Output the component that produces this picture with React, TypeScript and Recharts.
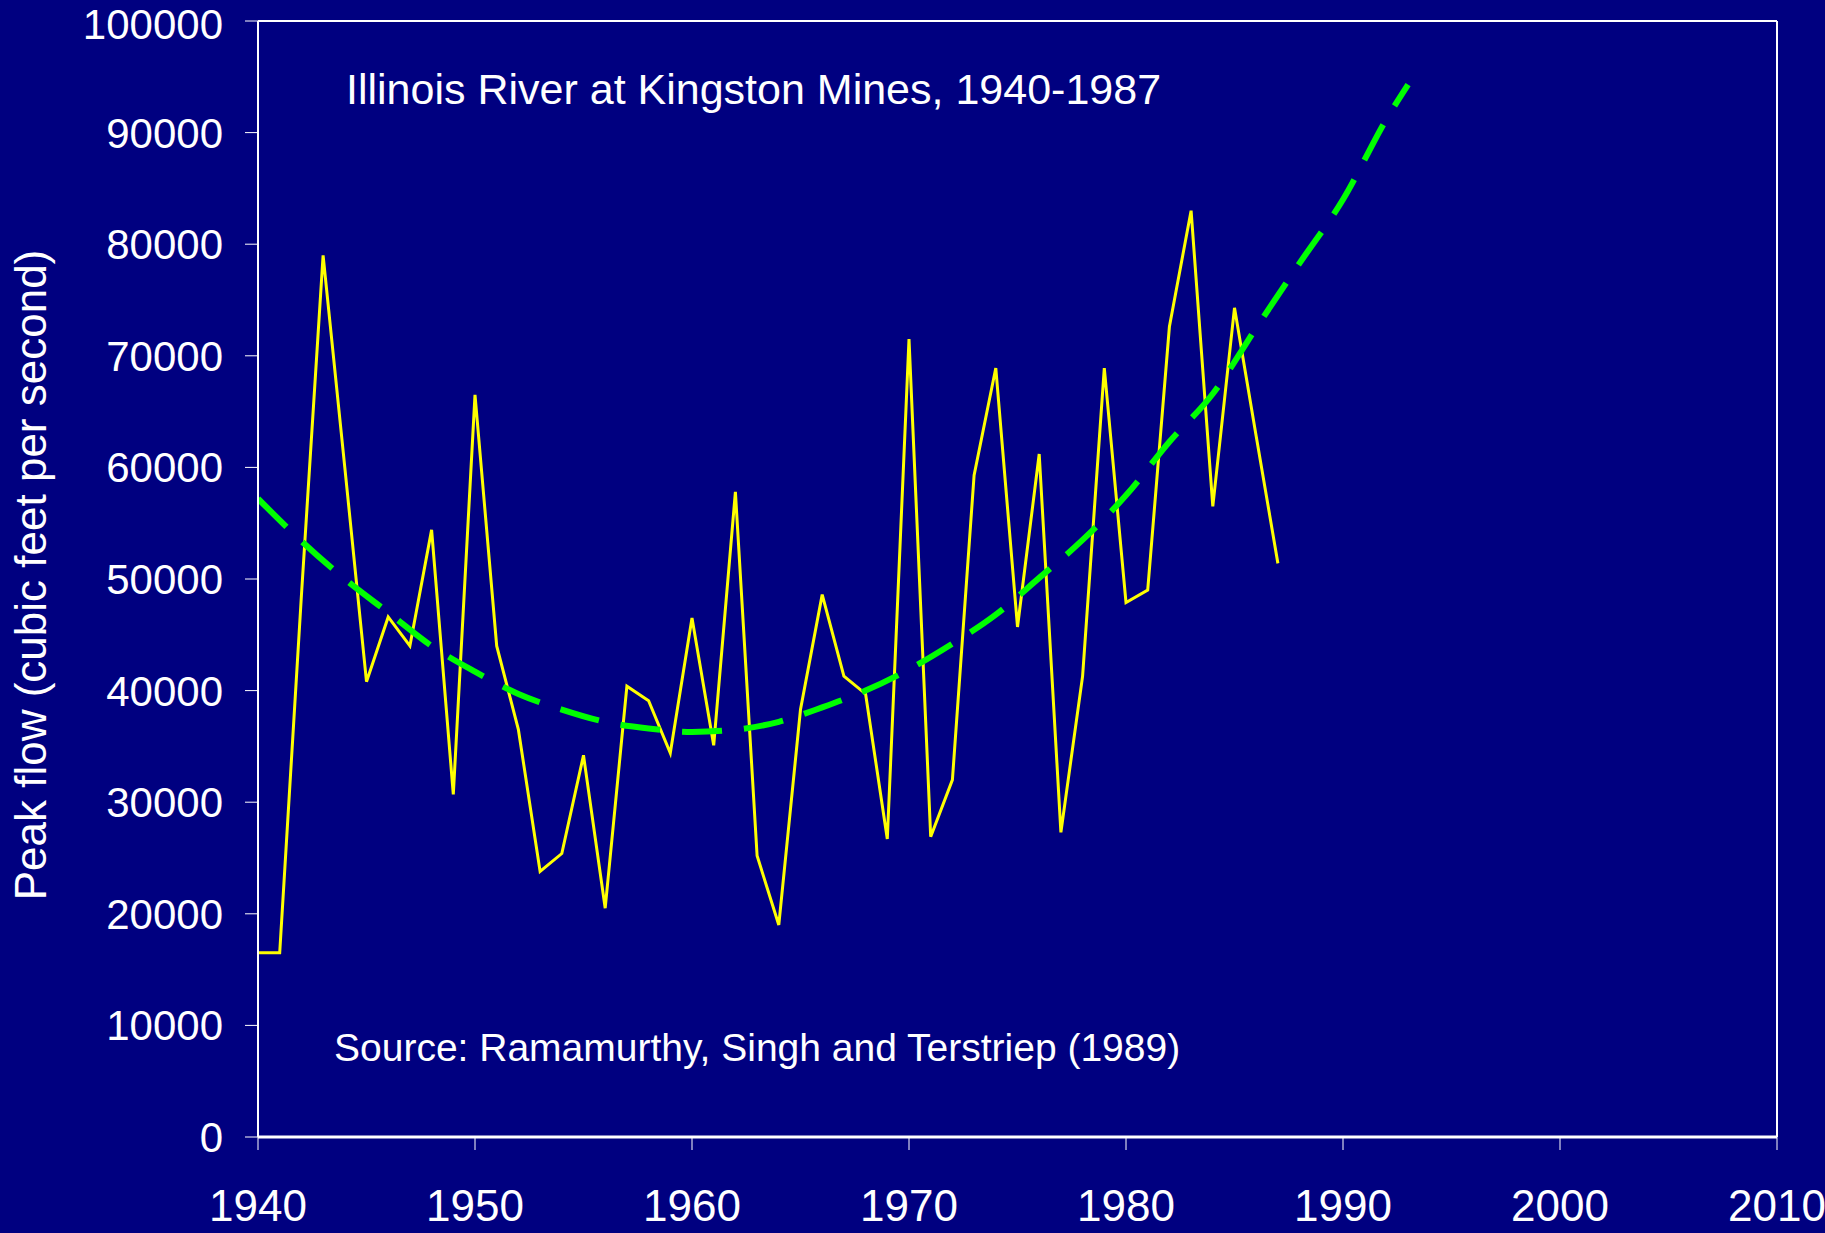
import React from "react";
import {
  LineChart,
  Line,
  XAxis,
  YAxis,
  ReferenceLine,
} from "recharts";

// annual peak flow, Illinois River at Kingston Mines
const years = [
  1940, 1941, 1942, 1943, 1944, 1945, 1946, 1947, 1948, 1949,
  1950, 1951, 1952, 1953, 1954, 1955, 1956, 1957, 1958, 1959,
  1960, 1961, 1962, 1963, 1964, 1965, 1966, 1967, 1968, 1969,
  1970, 1971, 1972, 1973, 1974, 1975, 1976, 1977, 1978, 1979,
  1980, 1981, 1982, 1983, 1984, 1985, 1986, 1987,
];
const peakFlow = [
  16500, 16500, 48500, 79000, 60000, 40800, 46600, 44000, 54400, 30700,
  66500, 44000, 36500, 23800, 25400, 34200, 20500, 40400, 39100, 34400,
  46500, 35100, 57800, 25200, 19000, 38300, 48600, 41300, 39700, 26700,
  71500, 26900, 32000, 59300, 68900, 45700, 61200, 27300, 41300, 68900,
  47900, 49000, 72600, 83000, 56500, 74300, 62800, 51400,
];

// trend curve
const trendYears = [
  1940, 1942, 1944, 1946, 1948, 1950, 1952, 1954, 1956, 1958,
  1960, 1962, 1964, 1966, 1968, 1970, 1972, 1974, 1976, 1978,
  1980, 1982, 1984, 1986, 1988, 1990, 1992, 1993,
];
const trendFlow = [
  57200, 53400, 50000, 47000, 44000, 41700, 39700, 38300, 37200, 36600,
  36300, 36500, 37200, 38500, 40000, 41900, 44200, 46800, 50100, 53500,
  57500, 62300, 66600, 72500, 78300, 84000, 91200, 94300,
];

const xTicks = [1940, 1950, 1960, 1970, 1980, 1990, 2000, 2010];
const yTicks = [0, 10000, 20000, 30000, 40000, 50000, 60000, 70000, 80000, 90000, 100000];

const flowData = years.map((year, i) => ({ year, flow: peakFlow[i] }));
const trendData = trendYears.map((year, i) => ({ year, trend: trendFlow[i] }));

const FONT = '"Liberation Sans", Arial, sans-serif';
const BG = "#000080";

const textStyle: React.CSSProperties = {
  position: "absolute",
  color: "#fff",
  fontFamily: FONT,
  lineHeight: "40px",
  whiteSpace: "nowrap",
};

export default function App() {
  return (
    <div style={{ position: "relative", width: 1825, height: 1233, background: BG }}>
      <style>{`body{margin:0;background:${BG};}`}</style>
      <LineChart
        width={1825}
        height={1233}
        margin={{ top: 21, right: 48, bottom: 0, left: 0 }}
      >
        <XAxis
          dataKey="year"
          type="number"
          domain={[1940, 2010]}
          ticks={xTicks}
          allowDataOverflow
          height={96}
          stroke="#fff"
          axisLine={{ stroke: "#fff", strokeWidth: 3 }}
          tickLine={{ stroke: "#fff", strokeWidth: 1 }}
          tickSize={13}
          tickMargin={40}
          tick={{ fill: "#fff", fontSize: 44, fontFamily: FONT }}
        />
        <YAxis
          type="number"
          domain={[0, 100000]}
          ticks={yTicks}
          width={258}
          stroke="#fff"
          axisLine={{ stroke: "#fff", strokeWidth: 2 }}
          tickLine={{ stroke: "#fff", strokeWidth: 1 }}
          tickSize={13}
          tickMargin={22}
          tick={{ fill: "#fff", fontSize: 42, fontFamily: FONT }}
        />
        <ReferenceLine y={100000} stroke="#fff" strokeWidth={2} />
        <ReferenceLine x={2010} stroke="#fff" strokeWidth={2} />
        <Line
          data={flowData}
          dataKey="flow"
          type="linear"
          stroke="#ffff00"
          strokeWidth={3}
          dot={false}
          isAnimationActive={false}
        />
        <Line
          data={trendData}
          dataKey="trend"
          type="monotone"
          stroke="#00ff00"
          strokeWidth={6}
          strokeDasharray="40 22"
          dot={false}
          isAnimationActive={false}
        />
      </LineChart>

      <div style={{ ...textStyle, fontSize: 43, left: 346, top: 69 }}>
        Illinois River at Kingston Mines, 1940-1987
      </div>
      <div style={{ ...textStyle, fontSize: 39, left: 334, top: 1028 }}>
        Source: Ramamurthy, Singh and Terstriep (1989)
      </div>
      <div
        style={{
          ...textStyle,
          fontSize: 44,
          left: 31 - 400,
          top: 575 - 20,
          width: 800,
          textAlign: "center",
          transform: "rotate(-90deg)",
          transformOrigin: "50% 50%",
        }}
      >
        Peak flow (cubic feet per second)
      </div>
    </div>
  );
}
